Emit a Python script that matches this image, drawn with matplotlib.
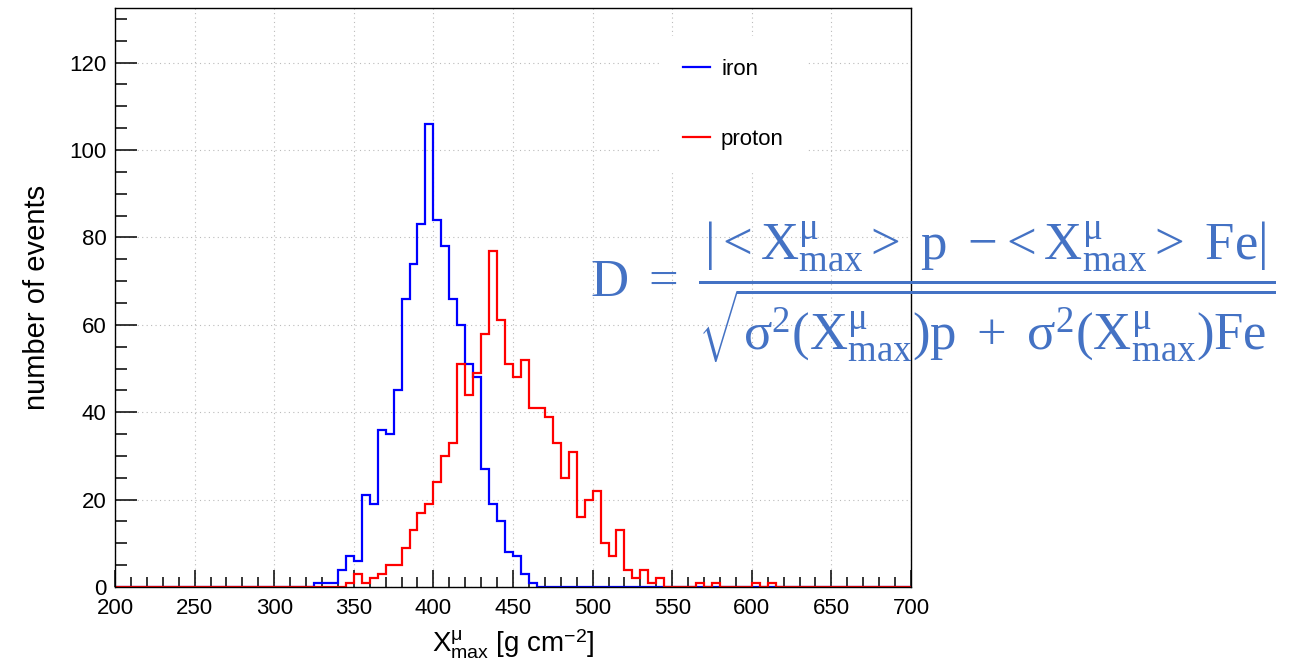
import numpy as np
import matplotlib
matplotlib.use('Agg')
import matplotlib.pyplot as plt
from matplotlib.ticker import MultipleLocator

plt.rcParams['font.family'] = ['Liberation Sans', 'DejaVu Sans']
plt.rcParams['mathtext.fontset'] = 'custom'
plt.rcParams['mathtext.rm'] = 'Liberation Serif'
plt.rcParams['mathtext.it'] = 'Liberation Serif:italic'
plt.rcParams['mathtext.sf'] = 'Liberation Sans'
plt.rcParams['mathtext.default'] = 'rm'

# histogram binning: 5 g/cm2 bins from 200 to 700
bin_lo, bin_hi, bin_w = 200, 700, 5

# iron counts, first bin starts at 325
iron_start = 325
iron_counts = [1, 1, 1, 4, 7, 6, 21, 19, 36, 35, 45, 66, 74, 83, 106,
               84, 78, 66, 60, 51, 48, 27, 19, 15, 8, 7, 3, 1]

# proton counts, first bin starts at 345
proton_start = 345
proton_counts = [1, 3, 1, 2, 3, 5, 5, 9, 13, 17, 19, 24, 30, 33, 51, 44,
                 49, 58, 77, 61, 51, 48, 52, 41, 41, 39, 33, 25, 31, 16,
                 20, 22, 10, 7, 13, 4, 2, 4, 1, 2, 0, 0, 0, 0, 1, 0, 1,
                 0, 0, 0, 0, 1, 0, 1]

edges = np.arange(bin_lo, bin_hi + bin_w, bin_w)
nbins = len(edges) - 1


def fill(start, counts):
    h = np.zeros(nbins)
    i0 = (start - bin_lo) // bin_w
    h[i0:i0 + len(counts)] = counts
    return h


iron = fill(iron_start, iron_counts)
proton = fill(proton_start, proton_counts)

fig = plt.figure(figsize=(12.89, 6.63), dpi=100)
ax = fig.add_axes([115 / 1289, 76 / 663, 796 / 1289, 579 / 663])

ax.stairs(iron, edges, color='#0000ff', lw=1.6, label='iron')
ax.stairs(proton, edges, color='#ff0000', lw=1.6, label='proton')

ax.set_xlim(bin_lo, bin_hi)
ax.set_ylim(0, 132.5)
ax.xaxis.set_major_locator(MultipleLocator(50))
ax.xaxis.set_minor_locator(MultipleLocator(10))
ax.yaxis.set_major_locator(MultipleLocator(20))
ax.yaxis.set_minor_locator(MultipleLocator(5))
ax.tick_params(axis='x', which='major', direction='in', length=12, width=1.1,
               labelsize=16, pad=8)
ax.tick_params(axis='x', which='minor', direction='in', length=7, width=1.1)
ax.tick_params(axis='y', which='major', direction='in', length=16, width=1.1,
               labelsize=16, pad=6)
ax.tick_params(axis='y', which='minor', direction='in', length=8.5, width=1.1)
ax.grid(True, which='major', color='#bbbbbb', linestyle=(0, (1, 3)), lw=0.8)
ax.set_axisbelow(True)
for s in ax.spines.values():
    s.set_linewidth(1.0)

ax.set_xlabel(r'$\mathsf{X^{\mu}_{max}}$ [g cm$^{\mathsf{-2}}$]', fontsize=20,
              labelpad=6)
ax.set_ylabel('number of events', fontsize=21, labelpad=13)

leg = ax.legend(loc='upper left', bbox_to_anchor=(0.672, 0.97), fontsize=16,
                handlelength=1.2, handletextpad=0.5, labelspacing=2.2,
                frameon=True, fancybox=False, framealpha=1, borderpad=1.0)
leg.get_frame().set_edgecolor('white')
leg.get_frame().set_facecolor('white')

formula = (r'$D\ =\ \dfrac{|<X^{\mu}_{max}>\ p\ -\!<X^{\mu}_{max}>\ Fe|}'
           r'{\sqrt{\sigma^{2}(X^{\mu}_{max})p\ +\ \sigma^{2}(X^{\mu}_{max})Fe}}$')
fig.text(590 / 1289, 1 - 292 / 663, formula, color='#4472C4', fontsize=38,
         va='center', ha='left')

fig.savefig('out.png', dpi=100)
